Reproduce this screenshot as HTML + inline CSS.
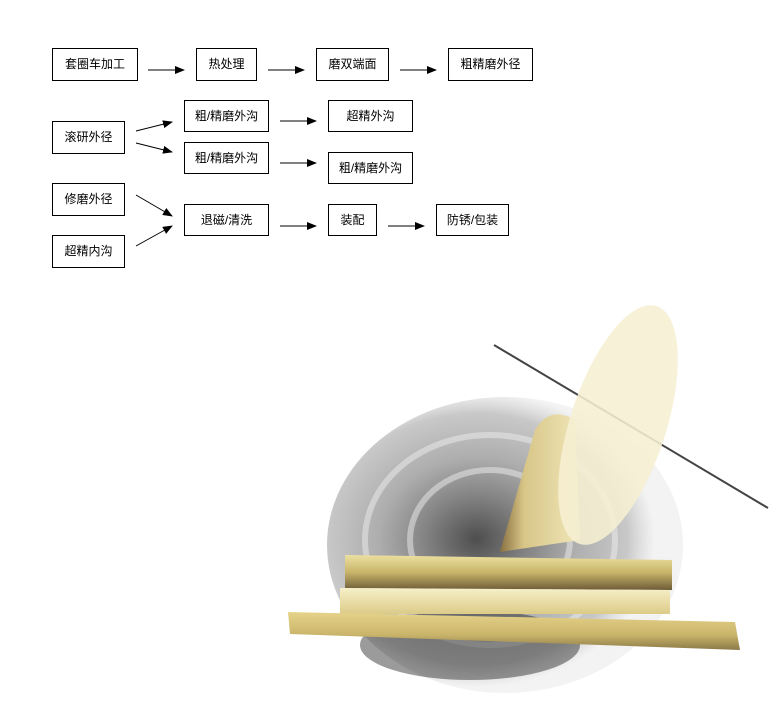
<!DOCTYPE html>
<html><head><meta charset="utf-8"><style>
html,body{margin:0;padding:0;background:#fff;}
body{width:780px;height:706px;position:relative;overflow:hidden;font-family:"Liberation Sans","Noto Sans CJK SC",sans-serif;}
.b{position:absolute;border:1px solid #000;box-sizing:border-box;font-size:12px;line-height:30px;text-align:center;color:#000;background:#fff;}
svg{position:absolute;left:0;top:0;}
</style></head><body>
<svg width="780" height="706" viewBox="0 0 780 706">
<defs>
<marker id="a" markerWidth="10" markerHeight="8" refX="9" refY="4" orient="auto" markerUnits="userSpaceOnUse"><path d="M0,0 L10,4 L0,8 z" fill="#000"/></marker>
<radialGradient id="g" cx="0.42" cy="0.48" r="0.5"><stop offset="0" stop-color="#222"/><stop offset="0.3" stop-color="#666"/><stop offset="0.55" stop-color="#999"/><stop offset="0.85" stop-color="#bbb"/><stop offset="1" stop-color="#ccc" stop-opacity="0.3"/></radialGradient>
<linearGradient id="t1" x1="0" y1="0" x2="0" y2="1"><stop offset="0" stop-color="#ece0a0"/><stop offset="0.5" stop-color="#c8b46a"/><stop offset="1" stop-color="#6e5c38"/></linearGradient>
<linearGradient id="t2" x1="0" y1="0" x2="0" y2="1"><stop offset="0" stop-color="#f7f0c8"/><stop offset="1" stop-color="#dccb88"/></linearGradient>
<linearGradient id="t3" x1="0" y1="0" x2="0" y2="1"><stop offset="0" stop-color="#e6d48a"/><stop offset="0.6" stop-color="#c9b46a"/><stop offset="1" stop-color="#8c7a48"/></linearGradient>
<linearGradient id="st" x1="0" y1="0" x2="1" y2="0"><stop offset="0" stop-color="#8a7040"/><stop offset="0.3" stop-color="#d8c688"/><stop offset="1" stop-color="#f0e6b8"/></linearGradient>
</defs>
<g stroke="#000" stroke-width="1" marker-end="url(#a)">
<line x1="148" y1="70" x2="184" y2="70"/>
<line x1="268" y1="70" x2="304" y2="70"/>
<line x1="400" y1="70" x2="436" y2="70"/>
<line x1="136" y1="131" x2="172" y2="122"/>
<line x1="136" y1="143" x2="172" y2="152"/>
<line x1="280" y1="121" x2="316" y2="121"/>
<line x1="280" y1="163" x2="316" y2="163"/>
<line x1="136" y1="195" x2="172" y2="216"/>
<line x1="136" y1="246" x2="172" y2="226"/>
<line x1="280" y1="226" x2="316" y2="226"/>
<line x1="388" y1="226" x2="424" y2="226"/>
</g>
<ellipse cx="505" cy="545" rx="178" ry="148" fill="url(#g)" opacity="0.8"/>
<g fill="none" stroke="#eee" stroke-width="6" opacity="0.5">
<ellipse cx="490" cy="540" rx="125" ry="105"/>
<ellipse cx="490" cy="540" rx="80" ry="70"/>
</g>
<ellipse cx="470" cy="645" rx="110" ry="35" fill="#222" opacity="0.45"/>
<path d="M535 430 Q550 405 575 420 L580 540 L500 552 Z" fill="url(#st)"/>
<line x1="494" y1="345" x2="768" y2="508" stroke="#444" stroke-width="2"/>
<ellipse cx="618" cy="425" rx="48" ry="125" transform="rotate(18 618 425)" fill="#f6efd2" opacity="0.88"/>
<path d="M345 555 L672 560 L672 590 L345 588 Z" fill="url(#t1)"/>
<path d="M340 588 L670 590 L670 614 L340 614 Z" fill="url(#t2)"/>
<path d="M288 612 L735 622 L740 650 L290 634 Z" fill="url(#t3)"/>
</svg>
<div class="b" style="left:52px;top:48px;width:86px;height:33px;">套圈车加工</div>
<div class="b" style="left:196px;top:48px;width:61px;height:33px;">热处理</div>
<div class="b" style="left:316px;top:48px;width:73px;height:33px;">磨双端面</div>
<div class="b" style="left:448px;top:48px;width:85px;height:33px;">粗精磨外径</div>
<div class="b" style="left:184px;top:100px;width:85px;height:32px;">粗/精磨外沟</div>
<div class="b" style="left:328px;top:100px;width:85px;height:32px;">超精外沟</div>
<div class="b" style="left:52px;top:121px;width:73px;height:33px;">滚研外径</div>
<div class="b" style="left:184px;top:142px;width:85px;height:32px;">粗/精磨外沟</div>
<div class="b" style="left:328px;top:152px;width:85px;height:32px;">粗/精磨外沟</div>
<div class="b" style="left:52px;top:183px;width:73px;height:33px;">修磨外径</div>
<div class="b" style="left:52px;top:235px;width:73px;height:33px;">超精内沟</div>
<div class="b" style="left:184px;top:204px;width:85px;height:32px;">退磁/清洗</div>
<div class="b" style="left:328px;top:204px;width:49px;height:32px;">装配</div>
<div class="b" style="left:436px;top:204px;width:73px;height:32px;">防锈/包装</div>
</body></html>
